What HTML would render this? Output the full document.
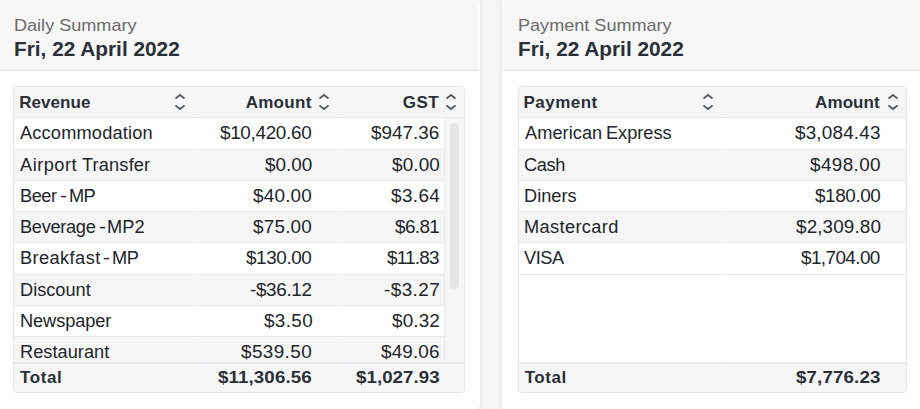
<!DOCTYPE html>
<html><head><meta charset="utf-8"><title>Summary</title>
<style>
*{box-sizing:border-box;margin:0;padding:0}
html,body{width:920px;height:409px;overflow:hidden;background:#f5f5f6;font-family:"Liberation Sans",sans-serif;color:#212529}
.card{position:absolute;top:-2px;height:412px;background:#fff;border-radius:5px;box-shadow:0 0 5px rgba(0,0,0,.10);overflow:hidden}
#c1{left:-2px;width:482px}
#c1 .hd div{left:15px}
#c2{left:502px;width:420px}
#c2 .hd div{left:14.5px}
.hd{position:absolute;left:1px;right:1px;top:1px;height:72px;background:#f7f7f7;border-bottom:1px solid #e5e6e8}
.hd .t1{position:absolute;left:16px;top:17px;font-size:17px;transform:scaleX(1.063);transform-origin:0 50%;color:#6b6b6b;line-height:20px;white-space:nowrap}
.hd .t2{position:absolute;left:16px;top:38px;font-size:20px;transform:scaleX(1.04);transform-origin:0 50%;font-weight:bold;color:#2b2f36;line-height:24px;white-space:nowrap}
.tb{position:absolute;top:88px;height:307px;border:1px solid #e5e6e9;border-radius:4px;overflow:hidden;background:#fff}
#c1 .tb{left:15px;width:452px}
#c2 .tb{left:16px;width:389px}
.row{position:absolute;left:0;background-color:#fff;background-image:var(--g);background-size:100% 1px;background-position:0 100%;background-repeat:no-repeat;font-size:17.5px;line-height:31px;white-space:nowrap}
.row.alt{background-color:#f6f6f6}
#c1 .row{--g:linear-gradient(90deg,#e7e8ea 179px,rgba(231,232,234,.2) 179px 180px,#e7e8ea 180px 323px,rgba(231,232,234,.2) 323px 324px,#e7e8ea 324px)}
#c2 .row{--g:linear-gradient(90deg,#e7e8ea 202px,rgba(231,232,234,.2) 202px 203px,#e7e8ea 203px)}
.row.h,.row.f{background-color:#f6f6f6;font-weight:bold;font-size:17px;color:#2b2f36}
.row.f{background-position:0 0;background-size:100% 2px;line-height:32px}
.row span{position:absolute;top:0;transform-origin:0 50%}
.sb{position:absolute;left:430px;top:31px;width:20px;height:245px;background:#f6f6f6;border-left:1px solid #e7e8ea}
.th{position:absolute;left:5px;top:5px;width:9px;height:166px;border-radius:5px;background:#e3e4e6}
svg.s{position:absolute;top:5.7px;width:12px;height:18px;fill:none;stroke:#50555b;stroke-width:1.8;stroke-linecap:butt;stroke-linejoin:miter}
</style></head><body>
<div class="card" id="c1">
 <div class="hd"><div class="t1">Daily Summary</div><div class="t2">Fri, 22 April 2022</div></div>
 <div class="tb">
  <div class="row h" style="top:0px;height:31px;width:450px"><span id="a0_0_0" style="left:5.22px;letter-spacing:0.06px">Revenue</span> <span id="a0_1_0" style="left:231.64px;letter-spacing:0.30px">Amount</span> <span id="a0_2_0" style="left:388.72px;letter-spacing:0.50px">GST</span><svg class="s" style="left:160px" viewBox="-6 -9 12 18"><path d="M-4.6 -3.4L0 -7L4.6 -3.4M-4.6 3.4L0 7L4.6 3.4"/></svg><svg class="s" style="left:304px" viewBox="-6 -9 12 18"><path d="M-4.6 -3.4L0 -7L4.6 -3.4M-4.6 3.4L0 7L4.6 3.4"/></svg><svg class="s" style="left:431px" viewBox="-6 -9 12 18"><path d="M-4.6 -3.4L0 -7L4.6 -3.4M-4.6 3.4L0 7L4.6 3.4"/></svg></div>
  <div class="row" style="top:31px;height:32px;width:430px"><span id="a1_0_0" style="left:6.42px;letter-spacing:0.17px;transform:scaleX(1.04)">Accommodation</span> <span id="a1_1_0" style="left:206.46px;letter-spacing:-0.31px;transform:scaleX(1.05);font-size:18px">$10,420.60</span> <span id="a1_2_0" style="left:356.90px;letter-spacing:0.01px;transform:scaleX(1.05);font-size:18px">$947.36</span></div>
  <div class="row alt" style="top:63px;height:31px;width:430px"><span id="a2_0_0" style="left:6.32px;letter-spacing:0.48px;transform:scaleX(1.04)">Airport</span> <span id="a2_0_1" style="left:68.46px;letter-spacing:0.15px;transform:scaleX(1.04)">Transfer</span> <span id="a2_1_0" style="left:250.74px;letter-spacing:0.02px;transform:scaleX(1.05);font-size:18px">$0.00</span> <span id="a2_2_0" style="left:377.96px;letter-spacing:0.13px;transform:scaleX(1.05);font-size:18px">$0.00</span></div>
  <div class="row" style="top:94px;height:31px;width:430px"><span id="a3_0_0" style="left:5.84px;letter-spacing:-0.48px;transform:scaleX(1.04)">Beer</span> <span id="a3_0_1" style="left:45.94px;letter-spacing:0.80px;transform:scaleX(1.20)">-</span> <span id="a3_0_2" style="left:55.00px;letter-spacing:-0.60px;transform:scaleX(1.04)">MP</span> <span id="a3_1_0" style="left:239.39px;letter-spacing:0.20px;transform:scaleX(1.05);font-size:18px">$40.00</span> <span id="a3_2_0" style="left:376.78px;letter-spacing:0.37px;transform:scaleX(1.05);font-size:18px">$3.64</span></div>
  <div class="row alt" style="top:125px;height:31px;width:430px"><span id="a4_0_0" style="left:5.84px;letter-spacing:-0.29px;transform:scaleX(1.04)">Beverage</span> <span id="a4_0_1" style="left:85.19px;letter-spacing:0.80px;transform:scaleX(1.20)">-</span> <span id="a4_0_2" style="left:92.94px;letter-spacing:0.09px;transform:scaleX(1.04)">MP2</span> <span id="a4_1_0" style="left:239.39px;letter-spacing:0.20px;transform:scaleX(1.05);font-size:18px">$75.00</span> <span id="a4_2_0" style="left:380.65px;letter-spacing:-0.59px;transform:scaleX(1.05);font-size:18px">$6.81</span></div>
  <div class="row" style="top:156px;height:32px;width:430px"><span id="a5_0_0" style="left:5.84px;letter-spacing:0.40px;transform:scaleX(1.04)">Breakfast</span> <span id="a5_0_1" style="left:88.72px;letter-spacing:0.80px;transform:scaleX(1.20)">-</span> <span id="a5_0_2" style="left:97.78px;letter-spacing:-0.50px;transform:scaleX(1.04)">MP</span> <span id="a5_1_0" style="left:232.12px;letter-spacing:-0.39px;transform:scaleX(1.05);font-size:18px">$130.00</span> <span id="a5_2_0" style="left:373.18px;letter-spacing:-0.76px;transform:scaleX(1.05);font-size:18px">$11.83</span></div>
  <div class="row alt" style="top:188px;height:31px;width:430px"><span id="a6_0_0" style="left:5.84px;letter-spacing:-0.01px;transform:scaleX(1.04)">Discount</span> <span id="a6_1_0" style="left:235.78px;letter-spacing:-0.33px;transform:scaleX(1.05);font-size:18px">-$36.12</span> <span id="a6_2_0" style="left:369.84px;letter-spacing:0.41px;transform:scaleX(1.05);font-size:18px">-$3.27</span></div>
  <div class="row" style="top:219px;height:31px;width:430px"><span id="a7_0_0" style="left:5.74px;letter-spacing:-0.08px;transform:scaleX(1.04)">Newspaper</span> <span id="a7_1_0" style="left:249.62px;letter-spacing:0.33px;transform:scaleX(1.05);font-size:18px">$3.50</span> <span id="a7_2_0" style="left:377.96px;letter-spacing:0.13px;transform:scaleX(1.05);font-size:18px">$0.32</span></div>
  <div class="row alt" style="top:250px;height:31px;width:430px"><span id="a8_0_0" style="left:5.84px;letter-spacing:0.03px;transform:scaleX(1.04)">Restaurant</span> <span id="a8_1_0" style="left:227.12px;letter-spacing:0.37px;transform:scaleX(1.05);font-size:18px">$539.50</span> <span id="a8_2_0" style="left:366.96px;letter-spacing:0.13px;transform:scaleX(1.05);font-size:18px">$49.06</span></div>
  <div class="sb"><div class="th"></div></div>
  <div class="row f" style="top:275px;height:30px;width:450px"><span id="a9_0_0" style="left:5.90px;letter-spacing:0.63px">Total</span> <span id="a9_1_0" style="left:204.12px;letter-spacing:0.11px;transform:scaleX(1.10)">$11,306.56</span> <span id="a9_2_0" style="left:342.18px;letter-spacing:0.05px;transform:scaleX(1.10)">$1,027.93</span></div>
 </div>
</div>
<div class="card" id="c2">
 <div class="hd"><div class="t1">Payment Summary</div><div class="t2">Fri, 22 April 2022</div></div>
 <div class="tb">
  <div class="row h" style="top:0px;height:31px;width:387px"><span id="b0_0_0" style="left:4.44px;letter-spacing:0.48px">Payment</span> <span id="b0_1_0" style="left:296.08px;letter-spacing:0.08px">Amount</span><svg class="s" style="left:182.9px" viewBox="-6 -9 12 18"><path d="M-4.6 -3.4L0 -7L4.6 -3.4M-4.6 3.4L0 7L4.6 3.4"/></svg><svg class="s" style="left:368.2px" viewBox="-6 -9 12 18"><path d="M-4.6 -3.4L0 -7L4.6 -3.4M-4.6 3.4L0 7L4.6 3.4"/></svg></div>
  <div class="row" style="top:31px;height:32px;width:387px"><span id="b1_0_0" style="left:5.74px;letter-spacing:0.04px;transform:scaleX(1.04)">American</span> <span id="b1_0_1" style="left:87.22px;letter-spacing:-0.02px;transform:scaleX(1.04)">Express</span> <span id="b1_1_0" style="left:275.62px;letter-spacing:0.16px;transform:scaleX(1.05);font-size:18px">$3,084.43</span></div>
  <div class="row alt" style="top:63px;height:31px;width:387px"><span id="b2_0_0" style="left:4.84px;letter-spacing:-0.34px;transform:scaleX(1.04)">Cash</span> <span id="b2_1_0" style="left:291.39px;letter-spacing:0.36px;transform:scaleX(1.05);font-size:18px">$498.00</span></div>
  <div class="row" style="top:94px;height:31px;width:387px"><span id="b3_0_0" style="left:4.74px;letter-spacing:0.02px;transform:scaleX(1.04)">Diners</span> <span id="b3_1_0" style="left:295.62px;letter-spacing:-0.39px;transform:scaleX(1.05);font-size:18px">$180.00</span></div>
  <div class="row alt" style="top:125px;height:31px;width:387px"><span id="b4_0_0" style="left:4.84px;letter-spacing:0.35px;transform:scaleX(1.04)">Mastercard</span> <span id="b4_1_0" style="left:276.68px;letter-spacing:0.11px;transform:scaleX(1.05);font-size:18px">$2,309.80</span></div>
  <div class="row" style="top:156px;height:32px;width:387px"><span id="b5_0_0" style="left:5.39px;letter-spacing:-0.44px;transform:scaleX(1.04)">VISA</span> <span id="b5_1_0" style="left:282.18px;letter-spacing:-0.56px;transform:scaleX(1.05);font-size:18px">$1,704.00</span></div>
  <div class="row f" style="top:275px;height:30px;width:387px"><span id="b6_0_0" style="left:5.68px;letter-spacing:0.54px">Total</span> <span id="b6_1_0" style="left:277.23px;letter-spacing:0.14px;transform:scaleX(1.10)">$7,776.23</span></div>
 </div>
</div>
</body></html>
